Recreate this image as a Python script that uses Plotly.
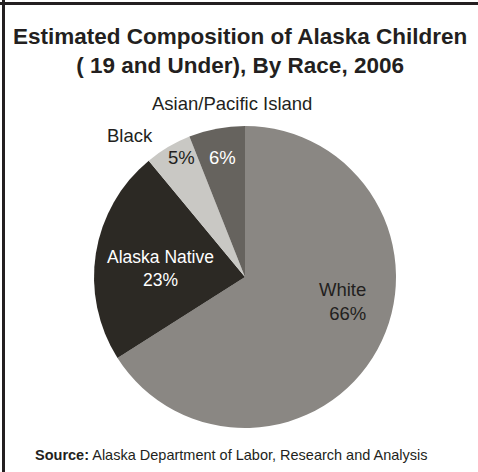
import plotly.graph_objects as go

# data
races = ["White", "Alaska Native", "Black", "Asian/Pacific Island"]
shares = [66, 23, 5, 6]
slice_colors = ["#8a8783", "#2c2924", "#c9c8c4", "#66635e"]

W, H = 478, 472
FONT = "Liberation Sans, Arial, sans-serif"
INK = "#231f20"


def px(x, y):
    # pixel position (top-left origin) -> paper coords
    return x / W, 1 - y / H


# pie placement: centre (245, 277), radius ~151 px
cx, cy, r = 245, 277, 151
x0, y1 = px(cx - r, cy - r)
x1, y0 = px(cx + r, cy + r)

fig = go.Figure(
    go.Pie(
        labels=races,
        values=shares,
        marker=dict(colors=slice_colors, line=dict(width=0)),
        sort=False,
        direction="clockwise",
        textinfo="none",
        hoverinfo="label+percent",
        domain=dict(x=[x0, x1], y=[y0, y1]),
        showlegend=False,
    )
)

pct = {k: f"{v}%" for k, v in zip(races, shares)}

# (text, pixel x, pixel y, size, colour, xanchor)
labels = [
    ("Asian/Pacific Island", 232, 104, 18.5, INK, "center"),
    ("Black", 130, 135, 18.5, INK, "center"),
    (pct["Black"], 181, 157, 18.5, INK, "center"),
    (pct["Asian/Pacific Island"], 222, 157, 18.5, "white", "center"),
    ("Alaska Native<br>" + pct["Alaska Native"], 160, 268, 17.5, "white", "center"),
    ("White<br>" + pct["White"], 368, 301, 18.5, INK, "right"),
]

annotations = [
    dict(
        text="<b>Estimated Composition of Alaska Children<br>( 19 and Under), By Race, 2006</b>",
        x=px(240, 51)[0], y=px(240, 51)[1], xref="paper", yref="paper",
        xanchor="center", yanchor="middle", showarrow=False,
        font=dict(family=FONT, size=22.5, color=INK),
    ),
    dict(
        text="<b>Source:</b> Alaska Department of Labor, Research and Analysis",
        x=px(33, 455)[0], y=px(33, 455)[1], xref="paper", yref="paper",
        xanchor="left", yanchor="middle", showarrow=False,
        font=dict(family=FONT, size=14.5, color=INK),
    ),
]
for txt, lx, ly, size, col, anchor in labels:
    ax, ay = px(lx, ly)
    annotations.append(dict(
        text=txt, x=ax, y=ay, xref="paper", yref="paper",
        xanchor=anchor, yanchor="middle", align=anchor,
        showarrow=False, font=dict(family=FONT, size=size, color=col),
    ))

# frame: only the top and left edges show in the reference
# sizes given in pixels, anchored on the paper's top / left edge
shapes = [
    dict(type="rect", xref="paper", yref="paper", x0=0, x1=1,
         ysizemode="pixel", yanchor=1, y0=-5, y1=-2,
         fillcolor=INK, line=dict(width=0), layer="above"),
    dict(type="rect", xref="paper", yref="paper", y0=0, y1=1,
         xsizemode="pixel", xanchor=0, x0=2, x1=5,
         fillcolor=INK, line=dict(width=0), layer="above"),
]

fig.update_layout(
    width=W,
    height=H,
    margin=dict(l=0, r=0, t=0, b=0),
    annotations=annotations,
    shapes=shapes,
)

# drop the page's default body margin so the figure sits at the window's corner
fig.write_html(
    "out.html",
    config={"displayModeBar": False},
    post_script="document.body.style.margin='0';",
)
